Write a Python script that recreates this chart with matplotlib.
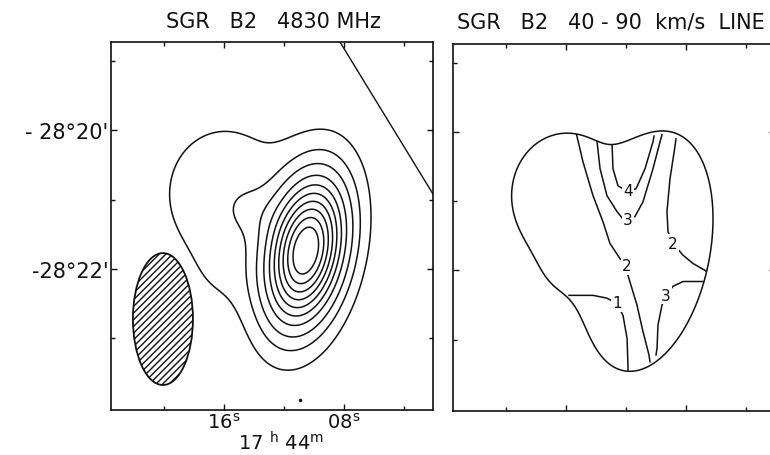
import numpy as np
import matplotlib.pyplot as plt
from matplotlib.patches import Ellipse, PathPatch

plt.rcParams['font.family'] = ['DejaVu Sans']

# Sgr B2 4830 MHz continuum, modelled as elliptical gaussian components
# RA = seconds after 17h44m, Dec = arcmin below -28 deg
comp_ra = [10.53, 15.93, 14.27, 15.93]
comp_dec = [-21.74, -20.92, -21.17, -22.16]
comp_amp = [1.0, 0.085, 0.045, 0.025]
comp_smaj = [0.70, 0.80, 0.26, 0.40]   # arcmin
comp_smin = [0.36, 0.72, 0.26, 0.40]   # arcmin
comp_pa = [-12.0, 0.0, 0.0, 0.0]       # deg, east of north

cont_levels = [0.045, 0.115, 0.2, 0.3, 0.4, 0.5, 0.6, 0.7, 0.8, 0.9]

# beam (hatched ellipse)
beam_ra, beam_dec = 20.07, -22.72
beam_w, beam_h = 4.0, 1.9

# straight line in upper right corner of the continuum map
edge_ra = [8.27, 2.07]
edge_dec = [-18.73, -20.92]

# 40-90 km/s line map contours
line_2a_ra = [15.40, 15.27, 14.87, 14.20, 13.53, 13.07, 12.40, 11.93, 11.87, 11.27, 10.87, 10.47, 10.40]
line_2a_dec = [-19.96, -20.06, -20.43, -20.92, -21.30, -21.61, -21.83, -21.93, -22.07, -22.50, -22.88, -23.22, -23.32]
line_3a_ra = [13.93, 13.93, 13.73, 13.27, 12.60, 12.27, 11.87, 11.40, 10.87, 10.20, 9.73, 9.60]
line_3a_dec = [-20.06, -20.14, -20.53, -20.92, -21.15, -21.24, -21.27, -21.22, -21.01, -20.53, -20.14, -20.04]
line_4_ra = [12.93, 12.93, 12.87, 12.53, 11.87, 11.33, 10.73, 10.20, 10.13]
line_4_dec = [-20.10, -20.17, -20.53, -20.78, -20.86, -20.82, -20.53, -20.14, -20.06]
line_2b_ra = [8.67, 8.73, 9.07, 9.27, 9.20, 8.87, 8.20, 7.53, 6.73, 6.33]
line_2b_dec = [-20.10, -20.20, -20.68, -21.15, -21.44, -21.61, -21.78, -21.90, -22.00, -22.06]
line_1_ra = [15.80, 15.20, 14.20, 13.27, 12.60, 12.20, 11.93, 11.87, 11.87]
line_1_dec = [-22.36, -22.36, -22.36, -22.40, -22.48, -22.65, -22.98, -23.37, -23.45]
line_3b_ra = [6.67, 7.07, 8.20, 8.87, 9.33, 9.60, 9.87, 9.93, 10.00]
line_3b_dec = [-22.16, -22.16, -22.16, -22.23, -22.36, -22.50, -22.79, -23.12, -23.22]

lab_text = ['4', '3', '2', '2', '1', '3']
lab_ra = [11.87, 11.87, 11.93, 8.87, 12.60, 9.33]
lab_dec = [-20.85, -21.27, -21.93, -21.61, -22.47, -22.36]

# build the continuum field on a grid
ra = np.linspace(24.0, 1.5, 500)
dec = np.linspace(-24.2, -18.5, 500)
RA, DEC = np.meshgrid(ra, dec)
field = np.zeros_like(RA)
for r0, d0, a0, smaj, smin, pa in zip(comp_ra, comp_dec, comp_amp, comp_smaj, comp_smin, comp_pa):
    e = (RA - r0) * 0.22   # arcmin east
    n = DEC - d0
    p = np.radians(pa)
    u = e * np.sin(p) + n * np.cos(p)
    v = e * np.cos(p) - n * np.sin(p)
    field += a0 * np.exp(-0.5 * (u**2 / smaj**2 + v**2 / smin**2))

fig = plt.figure(figsize=(7.7, 4.56), dpi=100)
ax1 = fig.add_axes([111/770, 1 - 411/456, 322/770, 368/456])
ax2 = fig.add_axes([453/770, 1 - 412/456, 322/770, 367/456])

for ax in (ax1, ax2):
    ax.set_xlim(23.53, 2.07)
    ax.set_ylim(-24.03, -18.73)
    ax.set_xticks([16, 8])
    ax.set_xticks([20, 12, 4], minor=True)
    ax.set_yticks([-20, -22])
    ax.set_yticks([-19, -21, -23], minor=True)
    ax.tick_params(which='both', direction='in', top=True, right=True, width=1, colors='#111')
    ax.tick_params(which='major', length=4.5)
    ax.tick_params(which='minor', length=3)
    for s in ax.spines.values():
        s.set_linewidth(1.2)
        s.set_color('#111')

# left panel: continuum
ax1.contour(RA, DEC, field, levels=cont_levels, colors='#111', linewidths=1.1)
ax1.plot(edge_ra, edge_dec, color='#111', lw=1.0)
ax1.add_patch(Ellipse((beam_ra, beam_dec), beam_w, beam_h, fill=False, hatch='/////',
                      edgecolor='#111', lw=1.3))
ax1.plot(10.93, -23.885, 'o', color='#111', ms=1.5)
ax1.set_xticklabels(['16$^{\\mathrm{s}}$', '08$^{\\mathrm{s}}$'], fontsize=14)
ax1.set_yticklabels(["- 28°20'", "-28°22'"], fontsize=15)
ax1.tick_params(axis='x', pad=1)
ax1.tick_params(axis='y', pad=2)

# right panel: line map inside the outer continuum contour
cs2 = ax2.contour(RA, DEC, field, levels=[cont_levels[0]], colors='#111', linewidths=1.1)
clip = PathPatch(cs2.get_paths()[0], transform=ax2.transData, fc='none', ec='none')
ax2.add_patch(clip)
for xs, ys in [(line_2a_ra, line_2a_dec), (line_3a_ra, line_3a_dec), (line_4_ra, line_4_dec),
               (line_2b_ra, line_2b_dec), (line_1_ra, line_1_dec), (line_3b_ra, line_3b_dec)]:
    ln, = ax2.plot(xs, ys, color='#111', lw=1.1)
    ln.set_clip_path(clip)
for t, x, y in zip(lab_text, lab_ra, lab_dec):
    ax2.text(x, y, t, ha='center', va='center', fontsize=11, color='#111', zorder=4,
             bbox=dict(boxstyle='square,pad=0.1', fc='white', ec='none'))
ax2.set_xticklabels([])
ax2.set_yticklabels([])

# titles and RA label
fig.text(166/770, 1 - 22/456, 'SGR   B2   4830 MHz', fontsize=15, ha='left', va='center', color='#111')
fig.text(457/770, 1 - 23/456, 'SGR   B2   40 - 90  km/s  LINE', fontsize=15, ha='left', va='center', color='#111')
fig.text(281/770, 1/456, '17 $^{\\mathrm{h}}$ 44$^{\\mathrm{m}}$', fontsize=14, ha='center', va='bottom', color='#111')

plt.savefig('out.png', dpi=100)
